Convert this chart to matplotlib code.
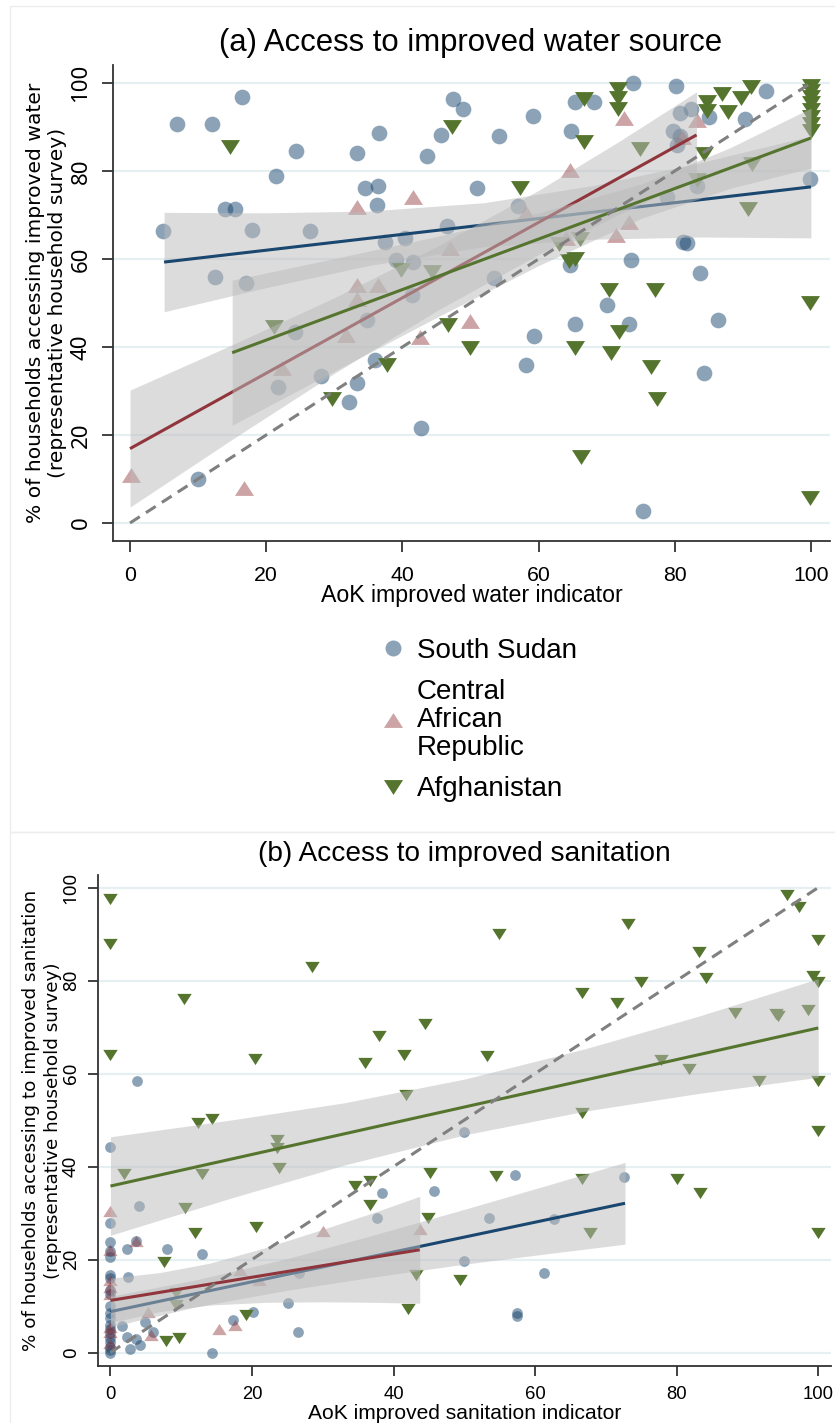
import matplotlib
matplotlib.use('Agg')
import matplotlib.pyplot as plt
from matplotlib.lines import Line2D
from matplotlib.patches import Rectangle

# ---------------- panel (a): improved water source ----------------
ss_a_x = [4.8, 6.9, 12.1, 16.5, 24.4, 21.4, 14.0, 15.4, 17.9, 26.5, 12.5, 17.1, 33.3, 36.5,
          34.5, 36.4, 36.3, 43.6, 45.6, 47.5, 48.9, 46.5, 37.4, 40.4, 39.0, 41.6, 41.4, 24.2,
          34.8, 36.0, 28.1, 21.8, 33.4, 32.2, 42.8, 10.0, 53.5, 70.0, 59.3, 65.3, 73.3, 58.2,
          84.3, 86.3, 75.4, 73.8, 80.2, 93.4, 65.3, 68.2, 59.2, 54.2, 64.8, 80.8, 82.4, 85.1,
          90.3, 79.8, 80.8, 80.4, 99.8, 50.9, 57.0, 83.2, 78.8, 81.2, 81.8, 73.6, 83.7, 64.6]
ss_a_y = [66.4, 90.6, 90.8, 96.9, 84.5, 78.9, 71.3, 71.3, 66.7, 66.4, 55.8, 54.5, 84.0, 88.6,
          76.1, 76.7, 72.3, 83.4, 88.2, 96.3, 94.2, 67.5, 63.9, 64.7, 59.8, 59.4, 51.8, 43.3,
          46.1, 37.0, 33.5, 30.8, 31.9, 27.4, 21.5, 10.0, 55.6, 49.5, 42.4, 45.2, 45.2, 35.8,
          34.2, 46.1, 2.8, 100.0, 99.4, 98.2, 95.8, 95.8, 92.5, 88.0, 89.0, 93.1, 94.2, 92.3,
          91.8, 89.0, 88.0, 86.0, 78.2, 76.1, 72.0, 76.7, 74.2, 63.8, 63.6, 59.8, 56.9, 58.6]

car_a_x = [0.1, 16.8, 22.3, 31.7, 33.4, 36.4, 33.3, 42.6, 50.0, 33.3, 41.6, 47.0, 72.6, 83.2,
           64.6, 81.0, 73.3, 71.3, 64.0, 58.1]
car_a_y = [10.9, 7.9, 35.2, 42.7, 54.1, 54.1, 51.0, 42.3, 46.0, 71.9, 74.2, 62.4, 92.0, 91.6,
           80.2, 87.8, 68.5, 65.5, 64.7, 70.4]

afg_a_x = [14.7, 47.3, 39.8, 44.4, 21.1, 37.8, 29.6, 46.7, 50.0, 70.3, 77.1, 65.3, 70.6, 71.8,
           76.5, 77.4, 66.3, 99.9, 99.9, 66.6, 71.7, 71.7, 71.7, 66.6, 74.9, 57.2, 84.8, 84.8,
           86.9, 87.8, 89.7, 91.2, 84.3, 91.4, 83.2, 90.8, 100, 100, 100, 100, 100, 100, 100,
           100, 65.3, 64.5, 63.0, 66.1]
afg_a_y = [85.4, 90.1, 57.5, 57.1, 44.6, 35.9, 28.1, 45.0, 39.7, 53.0, 53.0, 39.7, 38.6, 43.5,
           35.4, 28.1, 15.1, 50.0, 5.6, 96.3, 98.6, 96.5, 94.0, 86.7, 84.9, 76.1, 95.8, 93.7,
           97.5, 93.4, 96.5, 99.2, 83.9, 81.6, 78.0, 71.4, 99.4, 98.2, 96.9, 95.4, 93.8, 92.2,
           90.6, 89.0, 60.1, 59.5, 63.5, 64.6]

# linear fits and their confidence bands
ss_a_fit_x, ss_a_fit_y = [5, 100], [59.3, 76.4]
ss_a_band_x = [5, 20, 35, 52, 68, 84, 100]
ss_a_band_lo = [48.0, 53.5, 58.5, 62.8, 64.5, 65.0, 64.8]
ss_a_band_hi = [70.6, 70.5, 70.9, 72.8, 76.7, 82.0, 88.0]

car_a_fit_x, car_a_fit_y = [0, 83.2], [16.9, 88.2]
car_a_band_x = [0, 15, 30, 45, 60, 72, 83.2]
car_a_band_lo = [3.6, 19.0, 34.0, 48.2, 61.0, 70.3, 78.4]
car_a_band_hi = [30.2, 40.5, 51.2, 62.8, 75.6, 86.9, 98.0]

afg_a_fit_x, afg_a_fit_y = [15, 100], [38.7, 87.5]
afg_a_band_x = [15, 30, 45, 60, 75, 88, 100]
afg_a_band_lo = [22.2, 34.5, 46.7, 58.5, 69.2, 76.0, 80.7]
afg_a_band_hi = [55.2, 60.1, 65.1, 70.5, 77.0, 85.2, 94.3]

# ---------------- panel (b): improved sanitation ----------------
ss_b_x = [3.8, 0, 50.0, 4.0, 0, 0, 0, 0, 2.3, 8.0, 13.0, 2.5, 0, 0, 38.3, 45.7, 37.6, 57.2,
          72.6, 53.5, 62.6, 50.0, 61.2, 26.6, 57.4, 57.5, 25.1, 26.5, 20.1, 17.3, 14.3, 4.9,
          6.0, 1.7, 2.3, 3.6, 4.2, 2.7, 3.6, 0, 0, 0, 0, 0, 0, 0, 0, 0, 0, 0, 0, 0]
ss_b_y = [58.5, 44.2, 47.4, 31.6, 27.8, 23.7, 21.8, 20.6, 22.3, 22.2, 21.2, 16.3, 16.7, 16.0,
          34.3, 34.8, 28.9, 38.1, 37.7, 28.9, 28.7, 19.6, 17.2, 17.2, 8.6, 7.9, 10.6, 4.5, 8.8,
          6.9, 0.0, 6.5, 4.5, 5.6, 3.3, 2.9, 1.7, 0.7, 24.0, 0.0, 0.5, 1.2, 2.2, 3.2, 4.2, 5.0,
          6.0, 7.5, 8.5, 9.9, 12.5, 13.5]

car_b_x = [0, 30.0, 43.7, 18.3, 21.0, 15.3, 17.6, 5.3, 5.7, 3.6, 0, 0, 0, 0, 0, 0, 0]
car_b_y = [30.4, 26.2, 26.6, 17.8, 15.6, 5.0, 6.0, 8.7, 3.8, 23.9, 22.0, 15.5, 14.0, 12.5,
           5.5, 4.5, 2.0]

afg_b_x = [0, 0, 0, 10.4, 28.5, 20.4, 12.3, 14.3, 23.6, 23.6, 35.9, 37.9, 41.5, 44.5, 41.7,
           54.9, 53.2, 66.6, 71.5, 73.1, 75.0, 66.6, 77.8, 81.8, 83.2, 84.1, 88.3, 91.6, 94.1,
           94.3, 95.6, 97.3, 98.5, 99.9, 99.2, 99.9, 100, 100, 1.9, 13.0, 23.8, 10.6, 11.9,
           20.6, 7.5, 34.5, 36.7, 36.7, 45.1, 44.9, 54.5, 66.6, 80.0, 83.3, 67.7, 99.9, 43.1,
           49.4, 42.1, 19.2, 7.8, 9.7, 9.3, 9.3]
afg_b_y = [97.5, 87.9, 64.0, 76.0, 83.0, 63.1, 49.3, 50.2, 45.7, 44.0, 62.2, 68.0, 64.0, 70.7,
           55.4, 90.0, 63.7, 77.3, 75.1, 92.2, 79.6, 51.5, 62.9, 60.9, 86.2, 80.6, 73.1, 58.4,
           72.8, 72.3, 98.4, 95.8, 73.7, 88.8, 80.9, 79.6, 58.4, 47.7, 38.4, 38.4, 39.7, 31.1,
           25.7, 27.1, 19.4, 35.8, 36.8, 31.8, 38.6, 28.9, 37.9, 37.3, 37.3, 34.3, 25.8, 25.8,
           16.7, 15.5, 9.3, 8.1, 2.5, 3.1, 12.8, 10.3]

ss_b_fit_x, ss_b_fit_y = [0, 72.7], [8.8, 32.1]
ss_b_band_x = [0, 12, 25, 37, 50, 62, 72.7]
ss_b_band_lo = [5.5, 9.8, 13.4, 16.2, 19.0, 21.3, 23.3]
ss_b_band_hi = [12.1, 15.6, 20.2, 25.2, 30.8, 36.1, 40.9]

car_b_fit_x, car_b_fit_y = [0, 43.7], [11.2, 22.1]
car_b_band_x = [0, 7, 14, 22, 30, 37, 43.7]
car_b_band_lo = [6.4, 8.8, 10.2, 10.8, 10.9, 10.8, 10.6]
car_b_band_hi = [16.0, 17.2, 19.2, 22.6, 26.5, 30.0, 33.6]

afg_b_fit_x, afg_b_fit_y = [0, 100], [35.8, 69.8]
afg_b_band_x = [0, 17, 33, 50, 67, 83, 100]
afg_b_band_lo = [25.2, 33.2, 40.3, 46.8, 51.9, 55.7, 59.2]
afg_b_band_hi = [46.4, 50.0, 53.7, 58.8, 65.3, 72.3, 80.4]

# 45 degree reference line
diag_x = [0, 100]
diag_y = [0, 100]

ticks = [0, 20, 40, 60, 80, 100]
legend_labels = ['South Sudan', 'Central\nAfrican\nRepublic', 'Afghanistan']

NAVY = '#1a476f'
MAROON = '#90353b'
GREEN = '#55752f'
GRID = '#e6eff2'
TRI_UP = [(-1, -0.78), (1, -0.78), (0, 0.78)]
TRI_DOWN = [(-1, 0.78), (1, 0.78), (0, -0.78)]

plt.rcParams['font.family'] = ['Liberation Sans', 'DejaVu Sans']

fig = plt.figure(figsize=(8.35, 14.23), dpi=100)
W, H = 835.0, 1423.0


def draw_panel(ax, pts, fits, circle_s, tri_s, xlim, ylim):
    for v in ticks:
        ax.axhline(v, color=GRID, lw=1.6, zorder=0)
    (sx, sy), (cx, cy), (gx, gy) = pts
    ax.scatter(sx, sy, s=circle_s, marker='o', color=NAVY, alpha=0.5, lw=0, zorder=2)
    ax.scatter(cx, cy, s=tri_s, marker=TRI_UP, color=MAROON, alpha=0.45, lw=0, zorder=2)
    ax.scatter(gx, gy, s=tri_s, marker=TRI_DOWN, color=GREEN, lw=0, zorder=2)
    z = 3
    for (fx, fy, bx, blo, bhi), col in zip(fits, [NAVY, MAROON, GREEN]):
        ax.fill_between(bx, blo, bhi, color='#bbbbbb', alpha=0.5, lw=0, zorder=z)
        ax.plot(fx, fy, color=col, lw=2.2, solid_capstyle='butt', zorder=z + 1)
        z += 2
    ax.plot(diag_x, diag_y, color='#808080', lw=2.2, dashes=(3.8, 2.4), zorder=z)
    ax.set_xlim(*xlim)
    ax.set_ylim(*ylim)
    ax.set_xticks(ticks)
    ax.set_yticks(ticks)
    for side in ['top', 'right']:
        ax.spines[side].set_visible(False)
    for side in ['left', 'bottom']:
        ax.spines[side].set_color('#333333')
        ax.spines[side].set_linewidth(1.3)


# ---- panel (a)
ax1 = fig.add_axes([113 / W, 1 - 541 / H, 717 / W, 476 / H])
draw_panel(ax1,
           [(ss_a_x, ss_a_y), (car_a_x, car_a_y), (afg_a_x, afg_a_y)],
           [(ss_a_fit_x, ss_a_fit_y, ss_a_band_x, ss_a_band_lo, ss_a_band_hi),
            (car_a_fit_x, car_a_fit_y, car_a_band_x, car_a_band_lo, car_a_band_hi),
            (afg_a_fit_x, afg_a_fit_y, afg_a_band_x, afg_a_band_lo, afg_a_band_hi)],
           128, 187, (-2.5, 102.8), (-4.1, 104.1))
ax1.tick_params(axis='x', length=8, width=1.3, color='#333333', pad=10, labelsize=15.3)
ax1.tick_params(axis='y', length=8, width=1.3, color='#333333', pad=7.5, labelsize=16,
                labelrotation=90, labelfontfamily='Noto Sans')
for lbl in ax1.get_yticklabels():
    lbl.set_va('center')
ax1.set_xlabel('AoK improved water indicator', fontsize=16.7, va='top')
ax1.xaxis.set_label_coords(0.5, -0.09)
ax1.set_ylabel('% of households accessing improved water\n(representative household survey)',
               family='DejaVu Sans', fontsize=14.6, linespacing=1.2)
ax1.yaxis.set_label_coords(-0.064, 0.5)

fig.text(471 / W, 1 - 43 / H, '(a) Access to improved water source',
         ha='center', va='center', fontsize=22.4)

handles = [
    Line2D([], [], ls='none', marker='o', markersize=11.5, color=NAVY, alpha=0.5, mew=0),
    Line2D([], [], ls='none', marker=TRI_UP, markersize=13.7, color=MAROON, alpha=0.45, mew=0),
    Line2D([], [], ls='none', marker=TRI_DOWN, markersize=13.7, color=GREEN, mew=0),
]
leg = fig.legend(handles, legend_labels, loc='center left', bbox_to_anchor=(365 / W, 1 - 720 / H),
                 frameon=False, fontsize=20, borderpad=0, handlelength=1.0, handletextpad=0.36,
                 labelspacing=0.55)
for t in leg.get_texts():
    t.set_linespacing(1.1)

# ---- panel (b)
ax2 = fig.add_axes([97.7 / W, 1 - 1366 / H, 733.3 / W, 491 / H])
draw_panel(ax2,
           [(ss_b_x, ss_b_y), (car_b_x, car_b_y), (afg_b_x, afg_b_y)],
           [(ss_b_fit_x, ss_b_fit_y, ss_b_band_x, ss_b_band_lo, ss_b_band_hi),
            (car_b_fit_x, car_b_fit_y, car_b_band_x, car_b_band_lo, car_b_band_hi),
            (afg_b_fit_x, afg_b_fit_y, afg_b_band_x, afg_b_band_lo, afg_b_band_hi)],
           60, 108, (-1.8, 101.8), (-2.9, 102.7))
ax2.tick_params(axis='x', length=7, width=1.3, color='#333333', pad=7.5, labelsize=13.3)
ax2.tick_params(axis='y', length=7, width=1.3, color='#333333', pad=6, labelsize=13.5,
                labelrotation=90, labelfontfamily='Noto Sans')
for lbl in ax2.get_yticklabels():
    lbl.set_va('center')
ax2.set_xlabel('AoK improved sanitation indicator', fontsize=15.1, va='top')
ax2.xaxis.set_label_coords(0.5, -0.078)
ax2.set_ylabel('% of households accessing to improved sanitation\n(representative household survey)',
               family='DejaVu Sans', fontsize=13.2, linespacing=1.25)
ax2.yaxis.set_label_coords(-0.0487, 0.5)

fig.text(464 / W, 1 - 854 / H, '(b) Access to improved sanitation',
         ha='center', va='center', fontsize=20.2)

# faint outlines of the two graph regions
for top, bottom in [(5.7, 832), (832, 1430)]:
    fig.add_artist(Rectangle((9.6 / W, 1 - bottom / H), 1.0, (bottom - top) / H,
                             transform=fig.transFigure, fill=False, ec='#ededed', lw=1))

fig.savefig('out.png', dpi=100, facecolor='white')
